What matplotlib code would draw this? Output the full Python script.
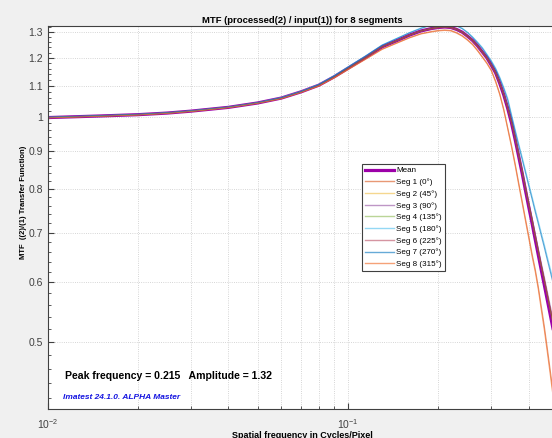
import matplotlib
matplotlib.use('Agg')
import matplotlib.pyplot as plt
from matplotlib.ticker import FixedLocator, NullFormatter

plt.rcParams['font.family'] = ['Liberation Sans', 'DejaVu Sans']

# Частоты (cycles/pixel)
freq = [0.010, 0.015, 0.020, 0.025, 0.030, 0.040, 0.050, 0.060, 0.070, 0.080,
        0.090, 0.100, 0.115, 0.130, 0.145, 0.160, 0.175,
        0.190, 0.200, 0.210, 0.220, 0.230, 0.240, 0.250, 0.260, 0.270, 0.280,
        0.290, 0.300, 0.310, 0.320, 0.330, 0.340, 0.350, 0.360, 0.370, 0.380,
        0.390, 0.400, 0.410, 0.420, 0.430, 0.440, 0.450, 0.460, 0.470, 0.480,
        0.490, 0.500]

mtf_mean = [0.998, 1.003, 1.007, 1.012, 1.018, 1.030, 1.044, 1.060, 1.081, 1.103,
            1.132, 1.162, 1.203, 1.242, 1.265, 1.287, 1.304,
            1.314, 1.318, 1.320, 1.318, 1.310, 1.299, 1.283, 1.266, 1.245, 1.222,
            1.200, 1.173, 1.146, 1.109, 1.070, 1.027, 0.982, 0.933, 0.885, 0.840,
            0.796, 0.756, 0.720, 0.685, 0.653, 0.623, 0.596, 0.570, 0.546, 0.523,
            0.503, 0.484]

seg1 = [0.998, 1.003, 1.007, 1.012, 1.018, 1.030, 1.044, 1.059, 1.080, 1.101,
        1.129, 1.158, 1.197, 1.233, 1.256, 1.277, 1.293,
        1.302, 1.306, 1.308, 1.306, 1.297, 1.285, 1.269, 1.251, 1.228, 1.204,
        1.181, 1.155, 1.117, 1.074, 1.024, 0.968, 0.917, 0.866, 0.816, 0.771,
        0.729, 0.691, 0.655, 0.625, 0.592, 0.557, 0.525, 0.492, 0.461, 0.432,
        0.407, 0.383]
seg2 = [0.998, 1.003, 1.007, 1.012, 1.018, 1.030, 1.044, 1.060, 1.081, 1.103,
        1.132, 1.162, 1.203, 1.242, 1.265, 1.287, 1.304,
        1.313, 1.317, 1.319, 1.317, 1.309, 1.298, 1.282, 1.265, 1.244, 1.221,
        1.199, 1.173, 1.146, 1.110, 1.072, 1.030, 0.986, 0.938, 0.891, 0.846,
        0.803, 0.763, 0.728, 0.693, 0.662, 0.632, 0.606, 0.580, 0.556, 0.533,
        0.513, 0.494]
seg3 = [0.998, 1.003, 1.007, 1.012, 1.018, 1.030, 1.044, 1.060, 1.081, 1.103,
        1.132, 1.162, 1.203, 1.242, 1.265, 1.287, 1.304,
        1.313, 1.317, 1.319, 1.317, 1.309, 1.298, 1.283, 1.266, 1.245, 1.222,
        1.200, 1.174, 1.147, 1.111, 1.073, 1.031, 0.988, 0.940, 0.893, 0.849,
        0.806, 0.766, 0.731, 0.697, 0.666, 0.637, 0.611, 0.585, 0.561, 0.539,
        0.519, 0.500]
seg4 = [0.998, 1.003, 1.007, 1.012, 1.018, 1.030, 1.044, 1.060, 1.081, 1.103,
        1.132, 1.162, 1.203, 1.242, 1.265, 1.287, 1.304,
        1.315, 1.319, 1.321, 1.319, 1.311, 1.300, 1.284, 1.267, 1.246, 1.223,
        1.201, 1.174, 1.147, 1.110, 1.071, 1.029, 0.985, 0.937, 0.889, 0.845,
        0.801, 0.762, 0.726, 0.691, 0.660, 0.630, 0.603, 0.578, 0.554, 0.531,
        0.511, 0.492]
seg5 = [0.999, 1.004, 1.008, 1.013, 1.019, 1.031, 1.045, 1.062, 1.083, 1.106,
        1.136, 1.167, 1.209, 1.249, 1.274, 1.297, 1.316,
        1.330, 1.334, 1.335, 1.334, 1.326, 1.315, 1.299, 1.280, 1.260, 1.239,
        1.214, 1.190, 1.163, 1.131, 1.096, 1.060, 1.009, 0.963, 0.921, 0.883,
        0.847, 0.813, 0.782, 0.752, 0.725, 0.699, 0.675, 0.651, 0.629, 0.608,
        0.589, 0.570]
seg6 = [0.998, 1.003, 1.007, 1.012, 1.018, 1.030, 1.044, 1.060, 1.081, 1.103,
        1.132, 1.162, 1.203, 1.242, 1.265, 1.287, 1.304,
        1.314, 1.318, 1.320, 1.318, 1.310, 1.299, 1.283, 1.266, 1.245, 1.222,
        1.200, 1.173, 1.146, 1.110, 1.071, 1.029, 0.985, 0.937, 0.890, 0.845,
        0.802, 0.763, 0.727, 0.692, 0.661, 0.632, 0.605, 0.580, 0.556, 0.534,
        0.514, 0.495]
seg7 = [0.999, 1.004, 1.008, 1.013, 1.019, 1.031, 1.045, 1.061, 1.082, 1.105,
        1.135, 1.166, 1.208, 1.248, 1.273, 1.296, 1.314,
        1.328, 1.332, 1.333, 1.332, 1.324, 1.313, 1.297, 1.278, 1.257, 1.236,
        1.211, 1.186, 1.159, 1.127, 1.091, 1.054, 1.003, 0.957, 0.915, 0.877,
        0.841, 0.807, 0.776, 0.746, 0.719, 0.693, 0.669, 0.645, 0.623, 0.602,
        0.583, 0.564]
seg8 = [0.997, 1.002, 1.006, 1.011, 1.017, 1.029, 1.043, 1.058, 1.079, 1.100,
        1.128, 1.157, 1.196, 1.232, 1.255, 1.276, 1.292,
        1.300, 1.304, 1.306, 1.304, 1.295, 1.283, 1.267, 1.249, 1.226, 1.202,
        1.179, 1.153, 1.114, 1.071, 1.020, 0.964, 0.912, 0.861, 0.811, 0.766,
        0.724, 0.686, 0.650, 0.620, 0.587, 0.551, 0.519, 0.486, 0.455, 0.426,
        0.401, 0.377]

segments = [seg1, seg2, seg3, seg4, seg5, seg6, seg7, seg8]
seg_labels = ['Seg 1 (0°)', 'Seg 2 (45°)', 'Seg 3 (90°)', 'Seg 4 (135°)',
              'Seg 5 (180°)', 'Seg 6 (225°)', 'Seg 7 (270°)', 'Seg 8 (315°)']
seg_colors = ['#D95319', '#EDB120', '#7E2F8E', '#77AC30',
              '#4DBEEE', '#A2142F', '#0072BD', '#F07030']
seg_alpha = [0.6, 0.5, 0.5, 0.5, 0.6, 0.45, 0.6, 0.65]

fig = plt.figure(figsize=(5.52, 4.38), dpi=100, facecolor='#F0F0F0')
# оси выходят за правый край картинки (как на скриншоте)
ax = fig.add_axes([47.5 / 552, 29 / 438, 510.5 / 552, 383 / 438])

ax.plot(freq, mtf_mean, color='#9C00A8', lw=2.3, label='Mean')
for vals, lab, col, a in zip(segments, seg_labels, seg_colors, seg_alpha):
    ax.plot(freq, vals, color=col, lw=0.8, alpha=a, label=lab)

ax.set_xscale('log')
ax.set_yscale('log')
ax.set_xlim(0.01, 0.5)
ax.set_ylim(0.406, 1.324)

yt = [0.5, 0.6, 0.7, 0.8, 0.9, 1.0, 1.1, 1.2, 1.3]
ax.yaxis.set_major_locator(FixedLocator(yt))
ax.set_yticklabels(['0.5', '0.6', '0.7', '0.8', '0.9', '1', '1.1', '1.2', '1.3'])
ax.yaxis.set_minor_locator(FixedLocator([0.42 + 0.02 * i for i in range(46)]))
ax.yaxis.set_minor_formatter(NullFormatter())
ax.xaxis.set_minor_formatter(NullFormatter())

ax.grid(True, which='major', axis='both', ls=':', lw=0.6, color='#C8C8C8')
ax.grid(True, which='minor', axis='x', ls=':', lw=0.6, color='#C8C8C8')
ax.tick_params(which='both', direction='in', colors='#404040', labelsize=7.5,
               top=False, right=False)
ax.tick_params(which='major', length=4)
ax.tick_params(which='minor', length=2)
ax.tick_params(axis='x', pad=6)
for s in ax.spines.values():
    s.set_color('#404040')
    s.set_linewidth(0.8)

ax.set_title('MTF (processed(2) / input(1)) for 8 segments', fontsize=6.8,
             fontweight='bold', pad=2.5)
ax.set_xlabel('Spatial frequency in Cycles/Pixel', fontsize=6.5, fontweight='bold')
ax.xaxis.set_label_coords(0.5, -0.058)
ax.set_ylabel('MTF  ((2)/(1) Transfer Function)', fontsize=5.5, fontweight='bold')
ax.yaxis.set_label_coords(-0.040, 0.54)

ax.text(0.034, 0.086, 'Peak frequency = 0.215   Amplitude = 1.32', transform=ax.transAxes,
        fontsize=7.6, fontweight='bold', va='center')
ax.text(0.030, 0.031, 'Imatest 24.1.0. ALPHA Master', transform=ax.transAxes,
        fontsize=6, fontweight='bold', style='italic', color='#1515E0', va='center')

leg = ax.legend(loc='upper left', bbox_to_anchor=(362 / 552, 1 - 164 / 438),
                bbox_transform=fig.transFigure, borderaxespad=0, fontsize=5.8,
                fancybox=False, edgecolor='#404040', framealpha=1,
                handlelength=3.6, handletextpad=0.3, labelspacing=0.5,
                borderpad=0.35)
leg.get_frame().set_linewidth(0.8)
for ln in leg.get_lines()[1:]:
    ln.set_linewidth(1.0)

fig.savefig('out.png', dpi=100, facecolor=fig.get_facecolor())
